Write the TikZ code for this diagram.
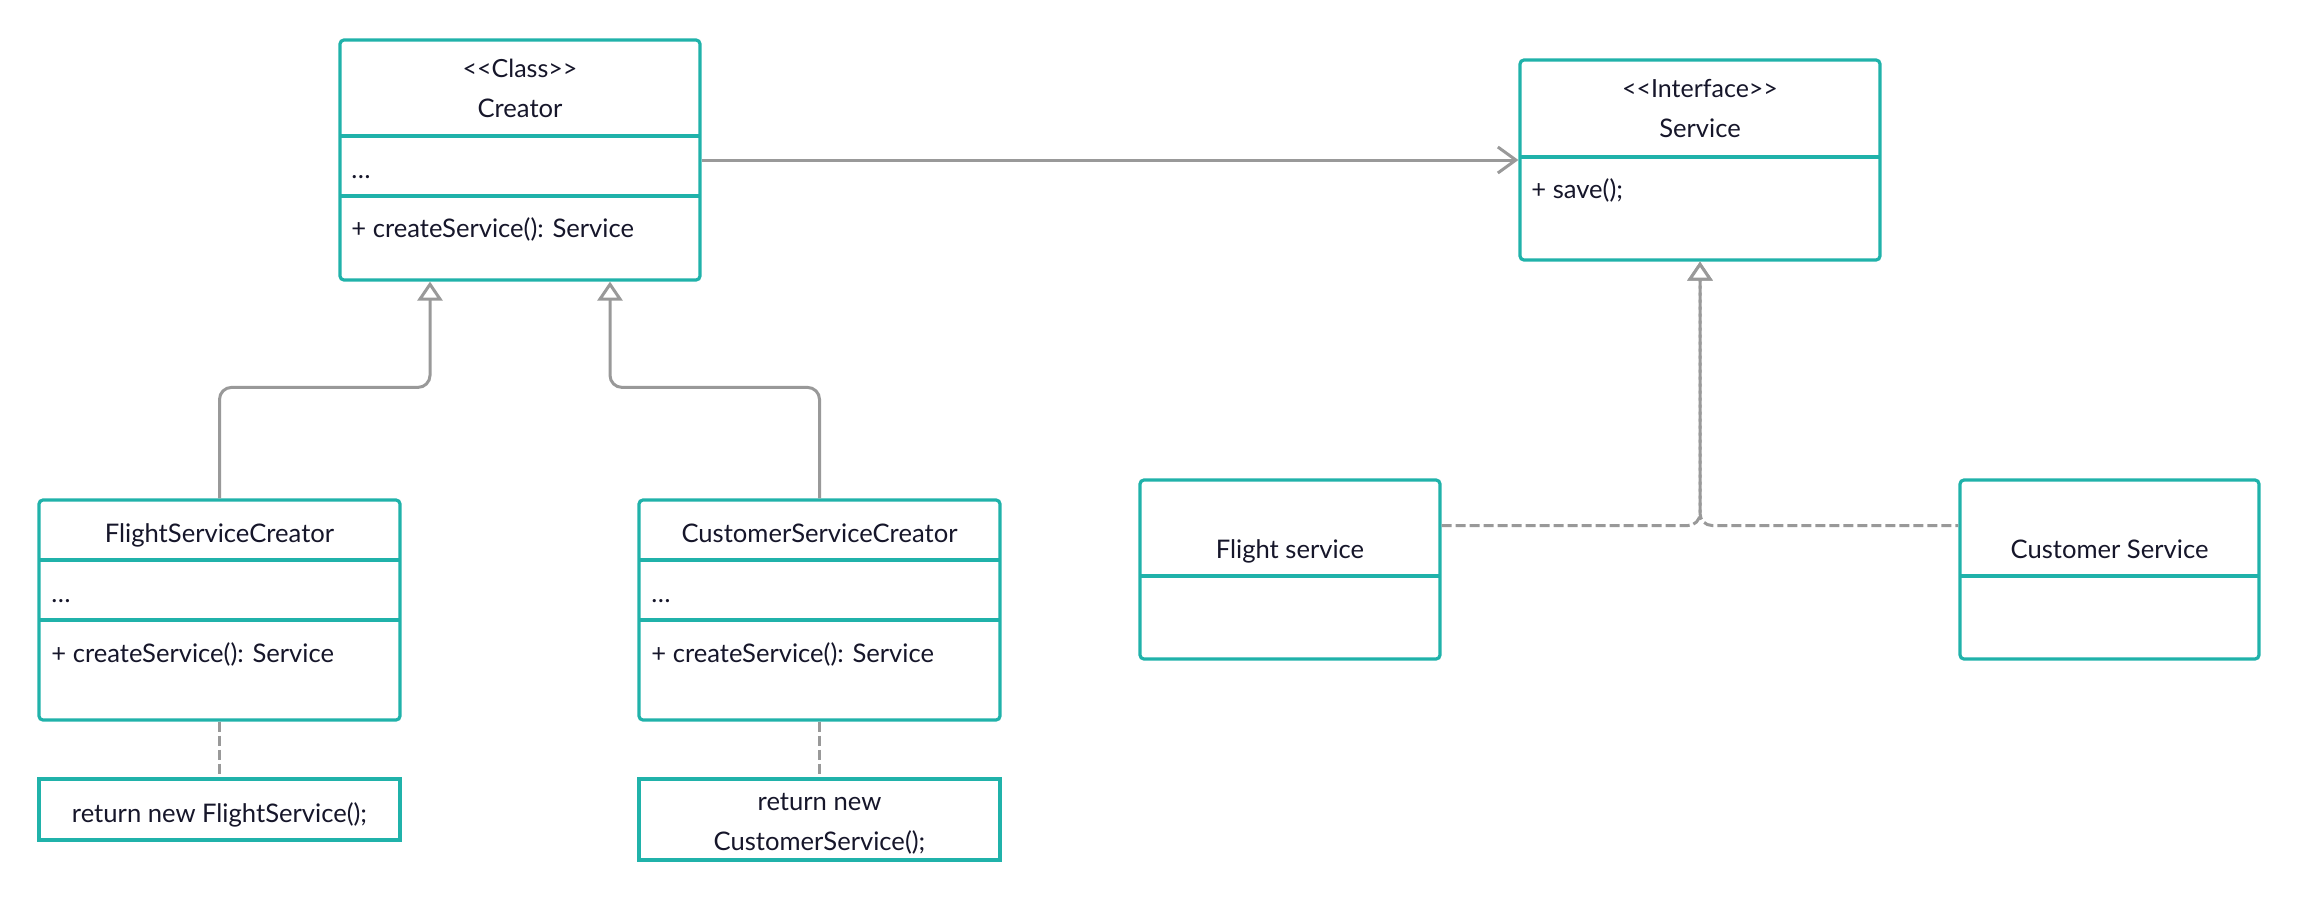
\documentclass[tikz,border=0pt]{standalone}
\usepackage{fontspec}
\setmainfont{Lato}
\usepackage{xcolor}
\usepackage{tikz}
\usetikzlibrary{arrows.meta,fit}

\definecolor{umlteal}{RGB}{32,178,170}
\definecolor{linkgray}{RGB}{153,153,153}
\definecolor{inkblue}{RGB}{22,22,42}

\begin{document}
\begin{tikzpicture}[x=0.5pt,y=-0.5pt,
    classbox/.style={draw=umlteal,line width=1.6pt,rounded corners=2pt,inner sep=0pt,fill=white},
    divider/.style={draw=umlteal,line width=1.6pt},
    nametext/.style={anchor=base,inner sep=0pt,text=inkblue,font=\fontsize{12.8}{15}\selectfont},
    stereotext/.style={nametext,font=\fontsize{12.5}{15}\selectfont},
    membertext/.style={nametext,anchor=base west},
    genlink/.style={draw=linkgray,line width=1.5pt,rounded corners=6pt,
        -{Triangle[open,length=9.5pt,width=12.5pt,fill=white]}},
    notelink/.style={draw=linkgray,line width=1.5pt,dash pattern=on 5pt off 2pt}]
    \useasboundingbox (0,0) rectangle (2300,900);

    % Creator class
    \node[classbox,fit={(340,40) (700,280)}] (creator) {};
    \draw[divider] (340,136) -- (700,136);
    \draw[divider] (340,196) -- (700,196);
    \node[stereotext] (creatorStereo) at (520,77) {<{}<Class>{}>};
    \node[nametext] (creatorName) at (520,117) {Creator};
    \node[membertext] (creatorAttr) at (351,178) {…};
    \node[membertext] (creatorOp) at (351,237) {+ createService(): Service};

    % Service interface
    \node[classbox,fit={(1520,60) (1880,260)}] (service) {};
    \draw[divider] (1520,157) -- (1880,157);
    \node[stereotext] (serviceStereo) at (1700,97) {<{}<Interface>{}>};
    \node[nametext] (serviceName) at (1700,137) {Service};
    \node[membertext] (serviceOp) at (1531,198) {+ save();};

    % Concrete creators
    \node[classbox,fit={(39,500) (400,720)}] (flightCreator) {};
    \draw[divider] (39,560) -- (400,560);
    \draw[divider] (39,620) -- (400,620);
    \node[nametext] (flightCreatorName) at (219.5,542) {FlightServiceCreator};
    \node[membertext] (flightCreatorAttr) at (51,602) {…};
    \node[membertext] (flightCreatorOp) at (51,662) {+ createService(): Service};

    \node[classbox,fit={(639,500) (1000,720)}] (customerCreator) {};
    \draw[divider] (639,560) -- (1000,560);
    \draw[divider] (639,620) -- (1000,620);
    \node[nametext] (customerCreatorName) at (819.5,542) {CustomerServiceCreator};
    \node[membertext] (customerCreatorAttr) at (651,602) {…};
    \node[membertext] (customerCreatorOp) at (651,662) {+ createService(): Service};

    % Notes
    \node[classbox,rounded corners=0pt,fit={(39,779) (400,840)}] (flightNote) {};
    \node[nametext] (flightNoteText) at (219.5,822) {return new FlightService();};
    \node[classbox,rounded corners=0pt,fit={(639,779) (1000,860)}] (customerNote) {};
    \node[nametext] (customerNoteTop) at (819.5,810) {return new};
    \node[nametext] (customerNoteBottom) at (819.5,850) {CustomerService();};

    % Concrete services
    \node[classbox,fit={(1140,480) (1440,659)}] (flightService) {};
    \draw[divider] (1140,576) -- (1440,576);
    \node[nametext] (flightServiceName) at (1290,558) {Flight service};
    \node[classbox,fit={(1960,480) (2259,659)}] (customerService) {};
    \draw[divider] (1960,576) -- (2259,576);
    \node[nametext] (customerServiceName) at (2109.5,558) {Customer Service};

    % Association
    \draw[draw=linkgray,line width=1.5pt,-{Straight Barb[length=9pt,width=13pt]}]
        (creator.east) -- (service.west);

    % Inheritance
    \draw[genlink] (flightCreator.north) -- ++(0,-111) -| ([xshift=-45pt]creator.south);
    \draw[genlink] (customerCreator.north) -- ++(0,-111) -| ([xshift=45pt]creator.south);

    % Realization
    \draw[genlink,dash pattern=on 5pt off 2pt] ([yshift=22pt]flightService.east) -| (service.south);
    \draw[genlink,dash pattern=on 5pt off 2pt,dash phase=3.5pt] ([yshift=22pt]customerService.west) -| (service.south);

    % Note links
    \draw[notelink] (flightCreator.south) -- (flightNote.north);
    \draw[notelink] (customerCreator.south) -- (customerNote.north);
\end{tikzpicture}
\end{document}
